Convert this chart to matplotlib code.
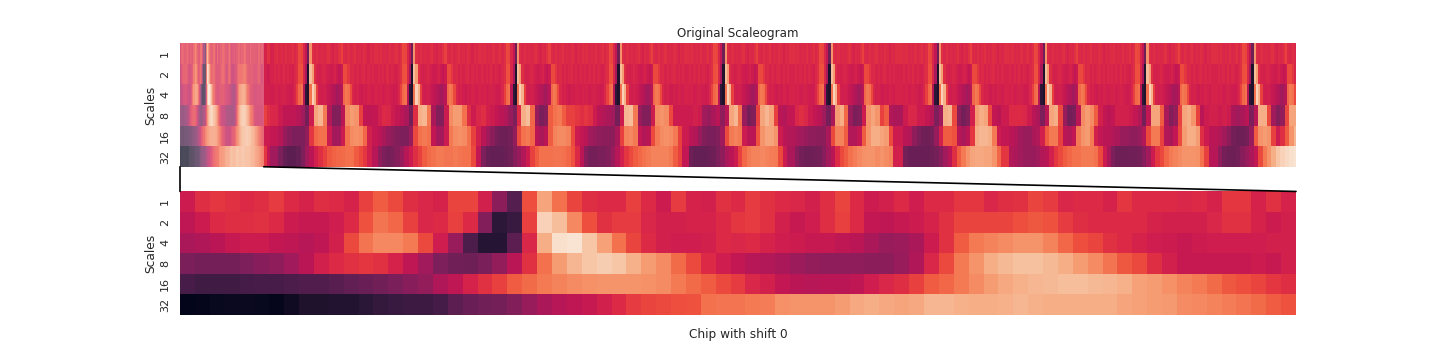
import numpy as np
import matplotlib
matplotlib.use("Agg")
import matplotlib.pyplot as plt
import seaborn as sns
from matplotlib.patches import ConnectionPatch, Rectangle

scale_labels = [1, 2, 4, 8, 16, 32]
title_text = "Original Scaleogram"
xlabel_text = "Chip with shift 0"
ylabel_text = "Scales"

# Chip (75 samples, six scales)
chip_1 = [50,56,58,57,55,56,59,55,53,56,55,53,60,66,62,56,54,53,61,61,52,35,22,63,82,
          70,61,56,55,55,60,55,50,59,53,52,57,55,59,57,55,54,52,56,61,55,50,52,55,51,
          55,55,58,58,54,56,57,61,59,54,55,55,53,58,55,55,55,54,55,53,58,58,53,57,53]
chip_2 = [47,50,55,56,56,57,55,50,49,49,51,55,64,71,68,60,54,55,60,55,33,12,15,60,93,
          88,75,63,57,59,59,54,52,52,53,53,55,58,59,57,52,49,51,56,60,55,48,47,49,50,
          53,57,61,61,61,61,63,65,64,59,56,55,55,55,55,53,52,52,52,54,57,57,53,50,52]
chip_3 = [42,43,46,49,50,50,48,47,45,47,52,62,71,75,75,72,62,51,38,20,10,10,24,54,84,
          97,98,90,81,70,61,55,52,51,51,52,55,54,55,53,51,50,49,49,47,46,42,38,39,42,
          50,57,66,72,74,76,78,78,74,68,63,61,57,55,53,51,50,49,50,51,51,51,51,52,52]
chip_4 = [31,30,30,30,32,34,36,40,46,52,55,57,58,57,53,47,40,32,29,28,31,37,46,57,70,
          80,86,90,92,90,85,80,76,69,62,55,51,48,45,44,42,39,37,36,36,36,35,35,38,43,
          54,62,72,78,84,87,89,89,87,84,80,76,71,65,62,56,52,49,49,49,49,49,50,49,52]
chip_5 = [19,17,17,17,18,19,19,20,21,21,23,25,27,29,31,34,37,43,47,53,57,60,66,69,72,
          74,76,77,78,78,78,77,76,72,69,66,62,59,54,52,48,46,45,46,46,47,51,54,56,60,
          66,68,72,76,80,83,85,86,87,88,88,87,86,85,81,80,77,74,72,69,65,63,61,58,56]
chip_6 = [0,1,2,3,3,2,1,4,8,8,9,9,11,14,15,16,16,18,24,27,29,30,33,38,42,
          45,47,49,52,55,59,61,62,63,64,70,71,71,72,73,77,78,78,78,80,83,84,83,82,83,
          86,86,85,84,84,85,86,85,84,84,84,84,84,82,81,80,79,76,75,74,73,71,69,66,64]

# Samples at which each later transient sits in the full record
spike_cols = [116, 209, 302, 394, 488, 583, 680, 775, 866, 962]

# Values for samples 75-83, three samples per entry
lead_in_4 = [60, 56, 54]
lead_in_5 = [50, 50, 48]
lead_in_6 = [58, 48, 40]

# Fine scales around a transient, two samples per entry
fine_1 = [55,56,54,55,54,56,54,55,57,54,56,62,61,54,48,28,78,56,
          54,56,54,55,54,55,57,54,53,55,54,57,60,55,54,56,54,55,57,54,55,54,56,55,53,55,54,56]
fine_2 = [54,53,54,53,55,53,54,53,52,54,56,63,64,54,42,8,88,80,
          56,53,52,53,54,53,51,50,51,53,50,48,50,62,62,58,54,55,53,54,53,54,55,53,54,53,54,53]
fine_3 = [52,53,51,52,53,52,51,50,51,54,60,68,70,46,12,8,70,93,85,
          60,52,51,52,51,49,47,45,43,40,42,46,68,72,70,62,54,52,53,51,50,52,51,53,52,51,53]

# Coarse scales, one list per transient, four samples per entry
coarse_4 = [
    [54,50,47,47,47,45,40,30,50,82,86,72,44,33,33,46,76,80,78,60,48,47,48],
    [52,55,54,50,48,46,42,30,56,84,86,72,42,33,33,50,76,80,80,70,56,50,54],
    [56,52,50,48,46,44,38,32,55,84,88,68,38,31,34,66,70,72,66,60,60,58,56],
    [58,56,50,46,44,42,40,30,50,86,88,72,38,33,33,50,76,78,76,62,50,50,50],
    [50,52,50,40,38,42,46,36,46,82,86,70,38,30,33,60,82,86,82,60,46,44,48],
    [54,56,54,50,48,46,40,30,42,80,84,68,38,31,33,50,78,82,78,60,66,44,42],
    [50,54,54,50,50,48,44,32,40,84,86,62,35,30,33,52,80,84,82,62,48,46,50],
    [55,55,55,54,50,46,42,32,46,82,84,62,38,30,31,46,76,80,76,66,52,48,46],
    [48,52,52,52,50,48,44,30,48,82,82,66,42,33,37,60,82,84,78,60,46,50,52],
    [50,52,50,42,40,42,46,32,46,84,84,62,40,33,37,62,82,82],
]
coarse_5 = [
    [48,45,38,34,32,32,32,37,58,68,70,70,50,41,41,50,70,76,77,76,68,52,48],
    [46,42,38,35,33,32,32,38,62,70,72,70,48,41,41,50,72,76,77,76,70,60,52],
    [46,40,35,30,28,28,30,37,62,70,72,68,46,42,46,66,74,76,76,74,62,50,48],
    [46,40,38,36,35,35,35,42,60,74,75,72,48,44,46,62,72,76,77,76,72,60,50],
    [46,44,38,33,31,31,33,40,62,72,74,72,50,46,46,64,78,82,82,78,50,46,44],
    [42,40,38,36,36,35,35,42,62,74,74,66,44,44,48,66,78,84,84,82,80,62,50],
    [46,44,36,31,29,28,30,38,52,66,66,64,46,42,46,58,84,86,86,84,72,50,48],
    [46,44,40,38,38,42,44,52,66,72,72,60,46,44,48,72,78,80,72,52,48,46,46],
    [44,42,38,38,36,36,38,44,62,72,72,60,44,42,48,62,80,84,84,80,56,50,46],
    [44,40,35,30,28,28,30,38,66,78,80,78,60,50,56,66,78,86],
]
coarse_6 = [
    [40,32,26,24,24,26,32,40,46,52,56,60,65,67,68,69,70,70,66,62,58,52,45],
    [36,32,30,31,34,38,45,50,56,60,66,69,70,72,72,71,71,72,71,70,70,62,48],
    [32,27,26,26,26,27,29,34,38,44,50,60,66,70,70,70,71,71,70,68,64,55,46],
    [34,30,30,31,31,33,38,45,52,58,62,66,68,70,72,74,74,74,74,72,66,60,48],
    [28,26,26,26,27,28,32,36,42,46,50,60,68,72,74,74,75,74,73,72,62,50,42],
    [34,30,28,28,29,30,34,40,46,55,62,66,70,73,75,77,78,78,76,78,76,74,52],
    [30,27,27,27,27,27,28,30,34,40,46,56,66,72,78,82,83,83,82,82,78,68,58],
    [44,42,40,38,38,38,40,44,46,52,58,62,66,68,70,70,72,72,72,70,62,50,42],
    [32,28,28,28,29,29,30,34,40,50,58,62,68,72,74,76,78,78,78,77,70,60,45],
    [36,30,28,28,30,34,38,42,48,62,72,78,84,90,93,95,97,98],
]

chip = np.array([chip_1, chip_2, chip_3, chip_4, chip_5, chip_6], dtype=float)
fine_rows = [fine_1, fine_2, fine_3]
coarse_rows = [coarse_4, coarse_5, coarse_6]
lead_rows = [lead_in_4, lead_in_5, lead_in_6]

full = np.zeros((6, 1000))
full[:, :75] = chip
for col in range(75, spike_cols[0] - 32):
    lead = (col - 75) // 3
    full[0, col] = chip_1[-1 - lead]
    full[1, col] = chip_2[-1 - lead]
    full[2, col] = chip_3[-1 - lead]
    for r in range(3):
        full[r + 3, col] = lead_rows[r][lead]
for i, c in enumerate(spike_cols):
    stop = spike_cols[i + 1] - 32 if i + 1 < len(spike_cols) else 1000
    for col in range(c - 32, stop):
        off = col - c + 32
        for r in range(3):
            full[r, col] = fine_rows[r][min(off // 2, 45)]
            row = coarse_rows[r][i]
            full[r + 3, col] = row[min(off // 4, len(row) - 1)]

sns.set_style("white")
plt.rcParams["font.family"] = ["DejaVu Sans"]

fig, (ax_full, ax_chip) = plt.subplots(2, 1, figsize=(14.4, 3.6), dpi=100)
fig.subplots_adjust(left=0.125, right=0.9, top=0.88, bottom=0.125, hspace=0.2)
sns.heatmap(full, ax=ax_full, cmap="rocket", vmin=0, vmax=100, cbar=False,
            xticklabels=False, yticklabels=scale_labels)
sns.heatmap(chip, ax=ax_chip, cmap="rocket", vmin=0, vmax=100, cbar=False,
            xticklabels=False, yticklabels=scale_labels)

for ax in (ax_full, ax_chip):
    ax.set_ylabel(ylabel_text, fontsize=8.8, labelpad=2.5)
    ax.tick_params(axis="y", labelsize=8, length=0, pad=7)
ax_full.set_title(title_text, fontsize=8.6, pad=4.5)
ax_chip.set_xlabel(xlabel_text, fontsize=8.7, labelpad=9.5)

ax_full.add_patch(Rectangle((0, 0), chip.shape[1], chip.shape[0], facecolor="white",
                            edgecolor="none", alpha=0.27, zorder=5))
for top_x, low_x in ((0, 0), (chip.shape[1], chip.shape[1])):
    fig.add_artist(ConnectionPatch(xyA=(top_x, chip.shape[0]), coordsA=ax_full.transData,
                                   xyB=(low_x, 0), coordsB=ax_chip.transData,
                                   color="black", linewidth=1.2, zorder=10))

fig.savefig("out.png", dpi=100)
